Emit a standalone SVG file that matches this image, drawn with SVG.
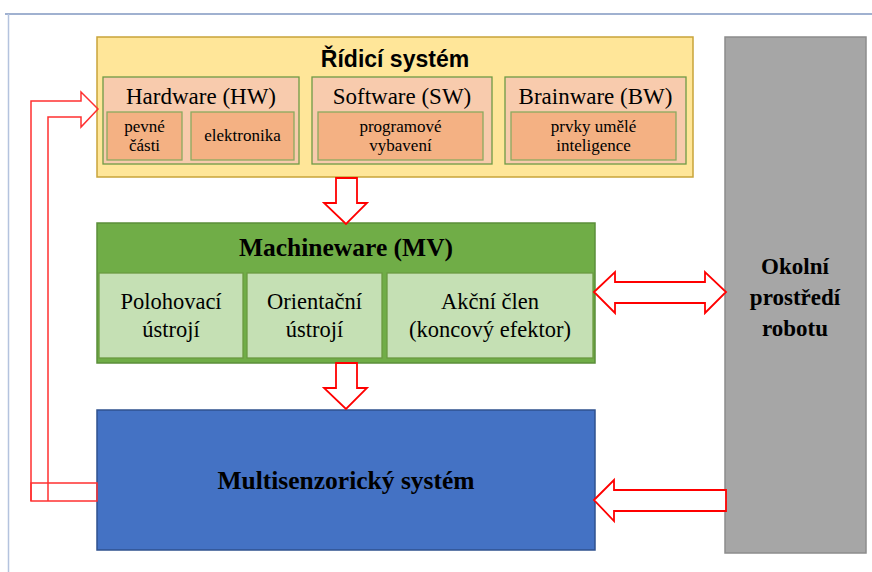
<svg xmlns="http://www.w3.org/2000/svg" width="872" height="572" viewBox="0 0 872 572">
<defs>
<style>
.serif{font-family:'Liberation Serif','Tinos','DejaVu Serif',serif;fill:#000;text-anchor:middle}
.sans{font-family:'Liberation Sans',Arial,sans-serif;fill:#000;text-anchor:middle;font-weight:bold}
.sub{fill:#f8cbad;stroke:#6f9a45;stroke-width:1.3}
.inner{fill:#f4b183;stroke:#8aaa5e;stroke-width:1.3}
.cell{fill:#c5e0b4;stroke:#6a9a40;stroke-width:1.3}
.arrow{fill:#fff;stroke:#ff0000;stroke-width:1.8;stroke-linejoin:miter}
.fb{fill:none;stroke:#ff3030;stroke-width:1.5}
</style>
</defs>
<rect width="872" height="572" fill="#fff"/>
<g id="frame">
<line x1="5" y1="14" x2="872" y2="14" stroke="#8197c0" stroke-width="1.5"/>
<line x1="8.5" y1="14" x2="8.5" y2="572" stroke="#b4c3de" stroke-width="1.5"/>
</g>
<g id="ridici-system">
<rect x="97" y="37" width="596" height="140" fill="#ffe699" stroke="#c9a43a" stroke-width="1.5"/>
<text class="sans" x="395" y="67" font-size="23">Řídicí systém</text>
<g id="hw">
<rect class="sub" x="103" y="77" width="196" height="87"/>
<text class="serif" x="201" y="104" font-size="23">Hardware (HW)</text>
<rect class="inner" x="107" y="112" width="75" height="48"/>
<text class="serif" x="144.5" y="132" font-size="17">pevné</text>
<text class="serif" x="144.5" y="151" font-size="17">části</text>
<rect class="inner" x="191" y="112" width="103" height="48"/>
<text class="serif" x="242.5" y="141" font-size="17">elektronika</text>
</g>
<g id="sw">
<rect class="sub" x="312" y="77" width="180" height="87"/>
<text class="serif" x="402" y="104" font-size="23">Software (SW)</text>
<rect class="inner" x="318" y="112" width="165" height="48"/>
<text class="serif" x="400.5" y="132" font-size="17">programové</text>
<text class="serif" x="400.5" y="151" font-size="17">vybavení</text>
</g>
<g id="bw">
<rect class="sub" x="505" y="77" width="181" height="87"/>
<text class="serif" x="595.5" y="104" font-size="23">Brainware (BW)</text>
<rect class="inner" x="511" y="112" width="165" height="48"/>
<text class="serif" x="593.5" y="132" font-size="17">prvky umělé</text>
<text class="serif" x="593.5" y="151" font-size="17">inteligence</text>
</g>
</g>
<g id="machineware">
<rect x="97" y="223" width="498" height="140" fill="#70ad47" stroke="#5b8f3a" stroke-width="1.5"/>
<text class="serif" x="346" y="256" font-size="25.5" font-weight="bold">Machineware (MV)</text>
<rect class="cell" x="99" y="273" width="144" height="85"/>
<text class="serif" x="171" y="309" font-size="22.5">Polohovací</text>
<text class="serif" x="171" y="337" font-size="22.5">ústrojí</text>
<rect class="cell" x="247" y="273" width="135" height="85"/>
<text class="serif" x="314.5" y="309" font-size="22.5">Orientační</text>
<text class="serif" x="314.5" y="337" font-size="22.5">ústrojí</text>
<rect class="cell" x="387" y="273" width="206" height="85"/>
<text class="serif" x="490" y="309" font-size="22.5">Akční člen</text>
<text class="serif" x="490" y="337" font-size="22.5">(koncový efektor)</text>
</g>
<g id="multisenzoricky">
<rect x="97" y="410" width="498" height="140" fill="#4472c4" stroke="#2f528f" stroke-width="1.5"/>
<text class="serif" x="346" y="489" font-size="25.5" font-weight="bold">Multisenzorický systém</text>
</g>
<g id="okoli">
<rect x="725" y="37" width="141" height="516" fill="#a6a6a6" stroke="#8c8c8c" stroke-width="1.5"/>
<text class="serif" x="795" y="274" font-size="23" font-weight="bold">Okolní</text>
<text class="serif" x="795" y="305" font-size="23" font-weight="bold">prostředí</text>
<text class="serif" x="795" y="336" font-size="23" font-weight="bold">robotu</text>
</g>
<g id="connectors">
<path class="arrow" d="M336,178 L357,178 L357,203 L367,203 L346,224 L324,203 L336,203 Z"/>
<path class="arrow" d="M336,363 L357,363 L357,388 L367,388 L346,409 L324,388 L336,388 Z"/>
<path class="arrow" d="M594,292 L615,272 L615,282 L705,282 L705,272 L726,292 L705,313 L705,303 L615,303 L615,313 Z"/>
<path class="arrow" d="M594,500 L614,480 L614,490 L726,490 L726,511 L614,511 L614,521 Z"/>
<path class="fb" d="M31,501 L31,101 L81,101 L81,92 L98,109 L81,127 L81,117 L48,117 L48,501"/>
<rect class="fb" x="31" y="483" width="66" height="18"/>
</g>
</svg>
